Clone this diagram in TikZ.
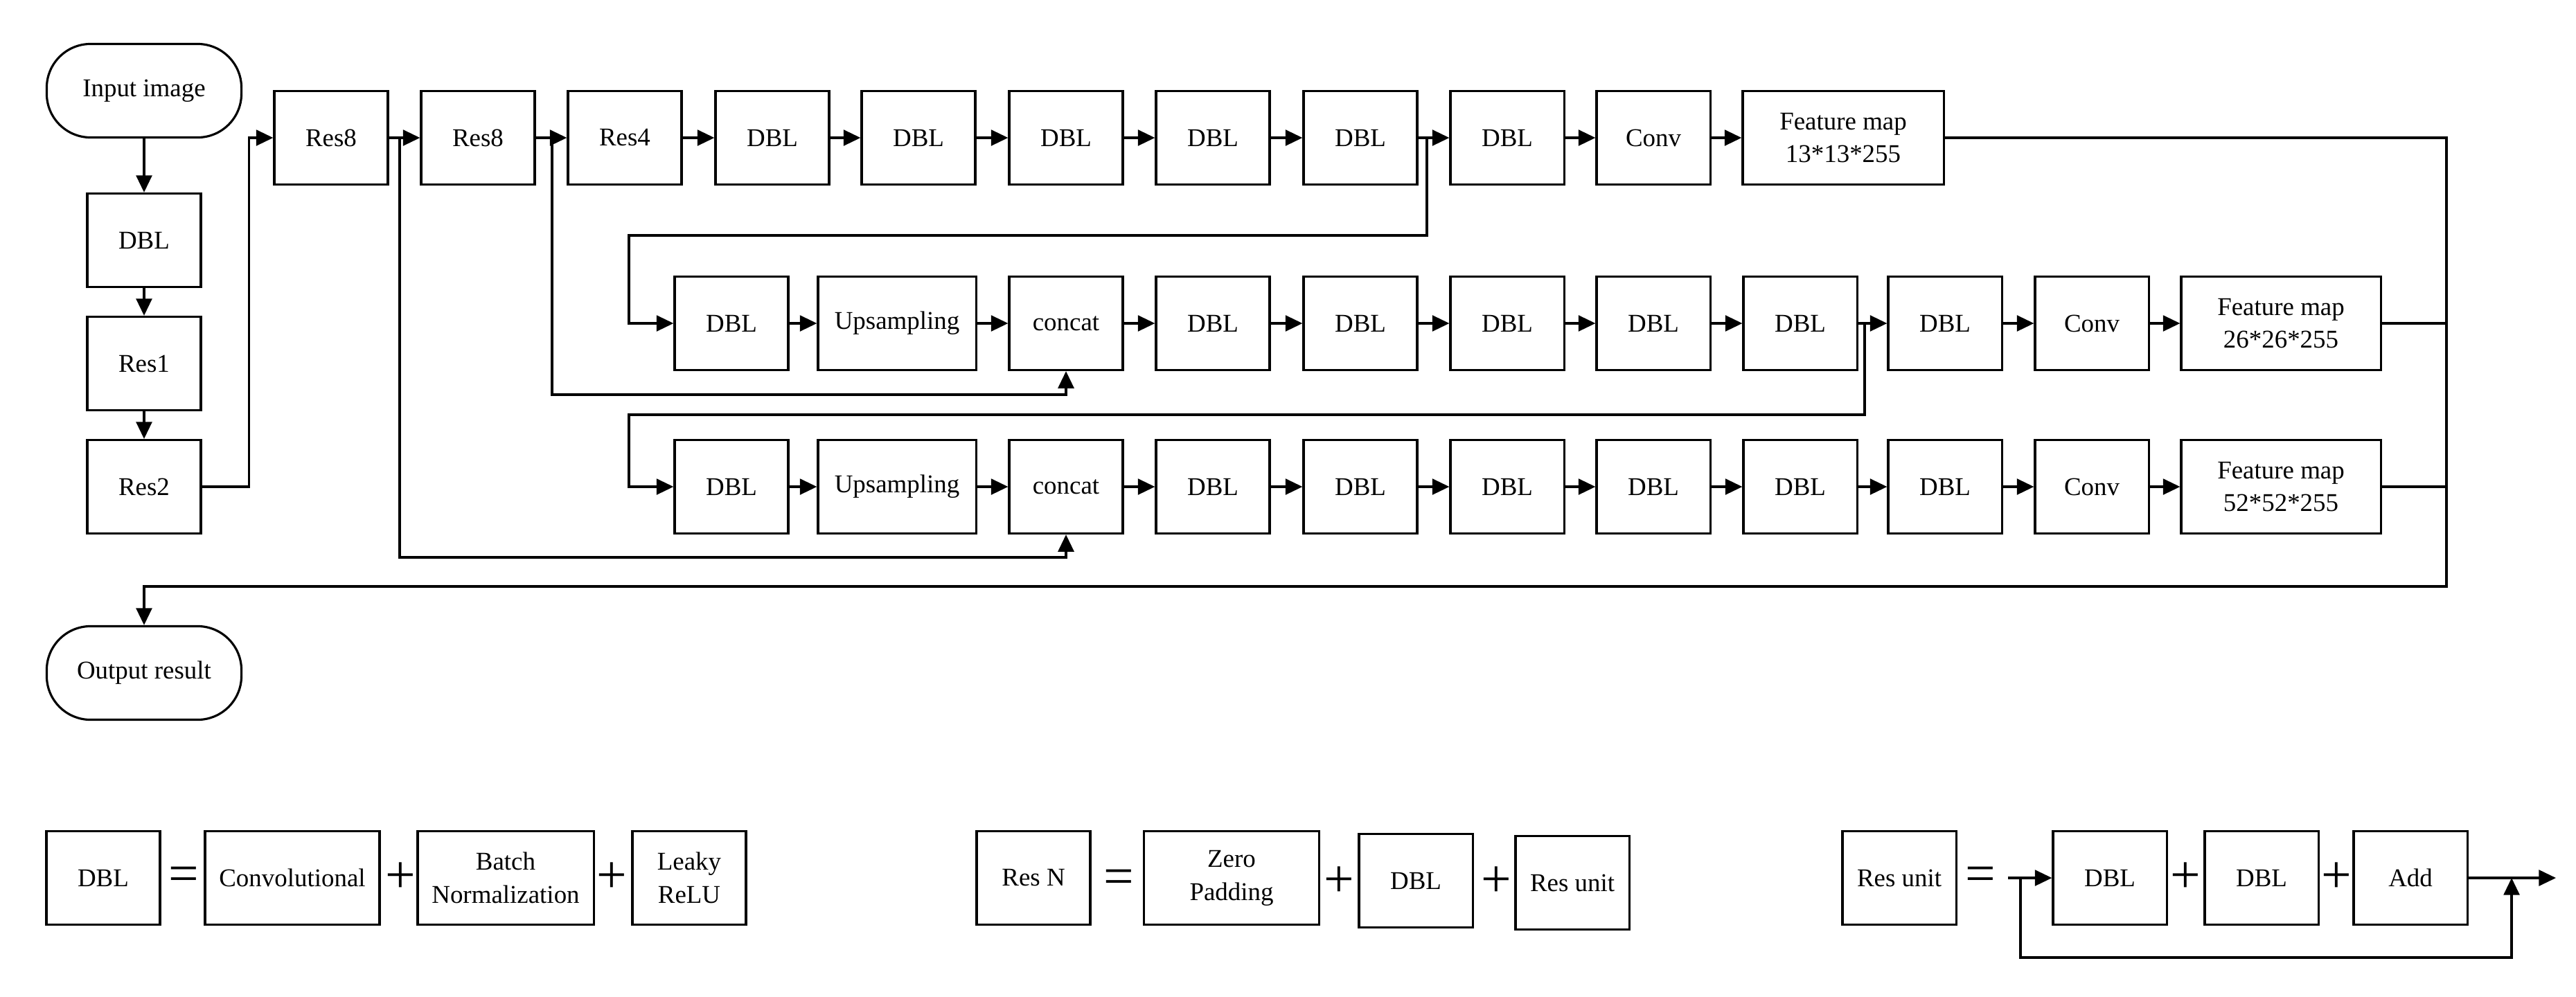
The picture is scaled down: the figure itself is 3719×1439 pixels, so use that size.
\documentclass[tikz,border=0pt]{standalone}
\usepackage{fontspec}
\setmainfont{Liberation Serif}
\usetikzlibrary{arrows.meta}
\tikzstyle{bx}=[draw=black,line width=0.9pt,minimum width=1.64cm,minimum height=1.35cm,inner sep=1pt,align=center]
\tikzstyle{term}=[bx,rounded corners=18pt,minimum width=2.81cm]
\tikzstyle{ln}=[line width=0.9pt]
\tikzstyle{arr}=[ln,-{Triangle[length=7pt,width=6.5pt]}]
\tikzstyle{op}=[inner sep=0pt,font=\fontsize{22}{24}\selectfont]

\begin{document}
\begin{tikzpicture}[x=0.01cm,y=-0.01cm,font=\fontsize{10.5}{13.6}\selectfont]
\useasboundingbox (0,0) rectangle (3719,1439);
% left column
\node[term] (in) at (208,131) {Input image};
\node[bx] (d0) at (208,347) {DBL}; \node[bx] (r1) at (208,525) {Res1}; \node[bx] (r2) at (208,703) {Res2};
\node[term] (out) at (208,972) {Output result};
% row 1
\node[bx] (a1) at (478,199) {Res8}; \node[bx] (a2) at (690,199) {Res8}; \node[bx] (a3) at (902,199) {Res4};
\node[bx] (a4) at (1115,199) {DBL}; \node[bx] (a5) at (1326,199) {DBL}; \node[bx] (a6) at (1539,199) {DBL};
\node[bx] (a7) at (1751,199) {DBL}; \node[bx] (a8) at (1964,199) {DBL}; \node[bx] (a9) at (2176,199) {DBL};
\node[bx] (a10) at (2387,199) {Conv};
\node[bx,minimum width=2.9cm] (a11) at (2661,199) {Feature map\\13*13*255};
% row 2
\node[bx] (b1) at (1056,467) {DBL}; \node[bx,minimum width=2.28cm] (b2) at (1295,467) {Upsampling};
\node[bx] (b3) at (1539,467) {concat};
\node[bx] (b4) at (1751,467) {DBL}; \node[bx] (b5) at (1964,467) {DBL}; \node[bx] (b6) at (2176,467) {DBL};
\node[bx] (b7) at (2387,467) {DBL}; \node[bx] (b8) at (2599,467) {DBL}; \node[bx] (b9) at (2808,467) {DBL};
\node[bx] (b10) at (3020,467) {Conv};
\node[bx,minimum width=2.88cm] (b11) at (3293,467) {Feature map\\26*26*255};
% row 3
\node[bx] (c1) at (1056,703) {DBL}; \node[bx,minimum width=2.28cm] (c2) at (1295,703) {Upsampling};
\node[bx] (c3) at (1539,703) {concat};
\node[bx] (c4) at (1751,703) {DBL}; \node[bx] (c5) at (1964,703) {DBL}; \node[bx] (c6) at (2176,703) {DBL};
\node[bx] (c7) at (2387,703) {DBL}; \node[bx] (c8) at (2599,703) {DBL}; \node[bx] (c9) at (2808,703) {DBL};
\node[bx] (c10) at (3020,703) {Conv};
\node[bx,minimum width=2.88cm] (c11) at (3293,703) {Feature map\\52*52*255};

\draw[arr] (in) -- (d0); \draw[arr] (d0) -- (r1); \draw[arr] (r1) -- (r2);
\draw[arr] (r2.east) -- ++(68,0) |- (a1.west);
\draw[arr] (a1) -- (a2); \draw[arr] (a2) -- (a3); \draw[arr] (a3) -- (a4); \draw[arr] (a4) -- (a5);
\draw[arr] (a5) -- (a6); \draw[arr] (a6) -- (a7); \draw[arr] (a7) -- (a8); \draw[arr] (a8) -- (a9);
\draw[arr] (a9) -- (a10); \draw[arr] (a10) -- (a11);
\draw[arr] (b1) -- (b2); \draw[arr] (b2) -- (b3); \draw[arr] (b3) -- (b4); \draw[arr] (b4) -- (b5);
\draw[arr] (b5) -- (b6); \draw[arr] (b6) -- (b7); \draw[arr] (b7) -- (b8); \draw[arr] (b8) -- (b9);
\draw[arr] (b9) -- (b10); \draw[arr] (b10) -- (b11);
\draw[arr] (c1) -- (c2); \draw[arr] (c2) -- (c3); \draw[arr] (c3) -- (c4); \draw[arr] (c4) -- (c5);
\draw[arr] (c5) -- (c6); \draw[arr] (c6) -- (c7); \draw[arr] (c7) -- (c8); \draw[arr] (c8) -- (c9);
\draw[arr] (c9) -- (c10); \draw[arr] (c10) -- (c11);
% skip connections
\coordinate (s1) at (577,199); \coordinate (s2) at (797,199);
\coordinate (s3) at (2060,199); \coordinate (s4) at (2692,467);
\draw[arr] (s1) -- ++(0,606) -| (c3.south);
\draw[arr] (s2) -- ++(0,371) -| (b3.south);
\draw[arr] (s3) |- (908,340) |- (b1.west);
\draw[arr] (s4) |- (908,599) |- (c1.west);
% outputs
\coordinate (col) at (3532,847);
\draw[arr] (a11.east) -| (col) -| (out.north);
\draw[ln] (b11.east) -- (b11.east -| col); \draw[ln] (c11.east) -- (c11.east -| col);

% legend: DBL
\node[bx] (ld) at (149,1268) {DBL}; \node[op] (le1) at (265,1270) {=};
\node[bx,minimum width=2.52cm] (lcv) at (422,1268) {Convolutional}; \node[op] (lp1) at (578,1268) {+};
\node[bx,minimum width=2.54cm] (lbn) at (730,1268) {Batch\\Normalization}; \node[op] (lp2) at (883,1268) {+};
\node[bx] (llr) at (995,1268) {Leaky\\ReLU};
% legend: Res N
\node[bx] (lr) at (1492,1268) {Res N}; \node[op] (le2) at (1615,1274) {=};
\node[bx,minimum width=2.53cm] (lzp) at (1778,1268) {Zero\\Padding}; \node[op] (lp3) at (1933,1274) {+};
\node[bx] (ldb) at (2044,1272) {DBL}; \node[op] (lp4) at (2160,1274) {+};
\node[bx] (lru) at (2270,1275) {Res unit};
% legend: Res unit
\node[bx] (ru) at (2742,1268) {Res unit}; \node[op] (le3) at (2859,1270) {=};
\node[bx] (u1) at (3046,1268) {DBL}; \node[op] (lp5) at (3155,1268) {+};
\node[bx] (u2) at (3265,1268) {DBL}; \node[op] (lp6) at (3373,1268) {+};
\node[bx] (u3) at (3480,1268) {Add};
\coordinate (ui) at (2899,1268); \coordinate (ub) at (2917,1268);
\coordinate (uj) at (3626,1268); \coordinate (uo) at (3690,1268);
\draw[arr] (ui) -- (u1); \draw[arr] (u3) -- (uo);
\draw[arr] (ub) -- ++(0,115) -| (uj);
\end{tikzpicture}
\end{document}
